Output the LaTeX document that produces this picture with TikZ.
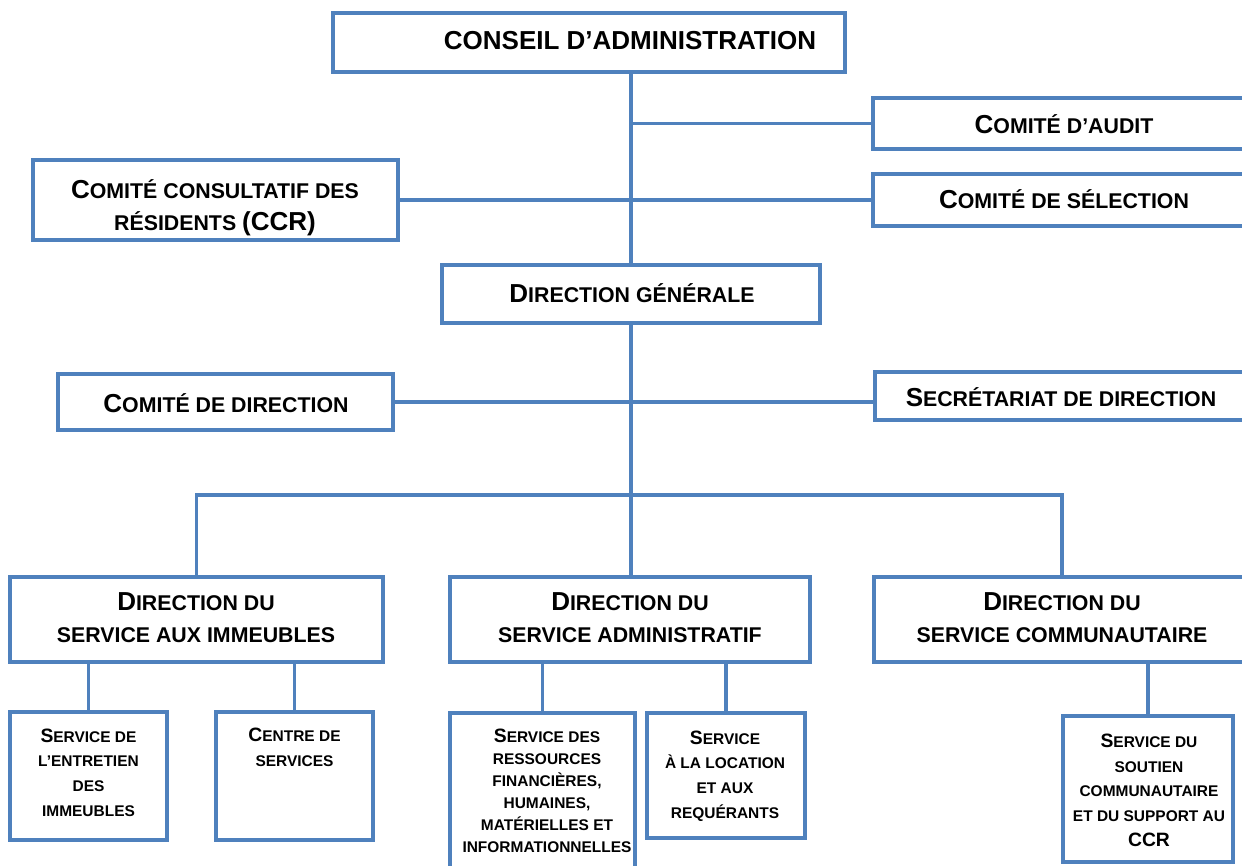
\documentclass[tikz,border=0pt]{standalone}
\usepackage{fontspec}
\setmainfont{Liberation Sans}
\usetikzlibrary{fit}
\definecolor{oblue}{RGB}{79,129,189}
\newcommand\Bg[1]{{\fontsize{19.5}{24}\selectfont #1}}
\newcommand\Bs[1]{{\fontsize{14.5}{18.5}\selectfont #1}}
\tikzset{
  box/.style={draw=oblue, line width=2.5pt, inner sep=0pt},
  conn/.style={draw=oblue, line width=2.5pt},
  mid/.style={align=center, inner sep=0pt, anchor=base, font=\bfseries\fontsize{16}{23.5}\selectfont},
  sub/.style={align=center, inner sep=0pt, anchor=base, font=\bfseries\fontsize{11.6}{18.5}\selectfont},
}
\begin{document}
\begin{tikzpicture}[x=0.75pt,y=-0.75pt]
\useasboundingbox (0,0) rectangle (1242,865);
\clip (0,0) rectangle (1242,865);
% boxes
\node[box, fit={(333,13) (845,72)}] (ca) {};
\node[box, fit={(873,98) (1255,149)}] (audit) {};
\node[box, fit={(873,174) (1255,226)}] (sel) {};
\node[box, fit={(33,160) (398,240)}] (ccr) {};
\node[box, fit={(442,265) (820,323)}] (dg) {};
\node[box, fit={(58,374) (393,430)}] (cdir) {};
\node[box, fit={(875,372) (1247,420)}] (sec) {};
\node[box, fit={(10,577) (383,662)}] (dsi) {};
\node[box, fit={(450,577) (810,662)}] (dsa) {};
\node[box, fit={(874,577) (1250,662)}] (dsc) {};
\node[box, fit={(10,712) (167,840)}] (ent) {};
\node[box, fit={(216,712) (373,840)}] (cs) {};
\node[box, fit={(450,713) (635,880)}] (res) {};
\node[box, fit={(647,713) (805,838)}] (loc) {};
\node[box, fit={(1063,716) (1233,862)}] (sout) {};
% connectors
\draw[conn] (ca.south -| dg.north) -- (dg.north);
\draw[conn] (audit.west) -- (audit.west -| dg.north);
\draw[conn] (ccr.east) -- (sel.west);
\draw[conn] (cdir.east) -- (cdir.east -| sec.west);
\draw[conn] (dg.south) -- (dg.south |- dsa.north);
\coordinate (bus) at (630,495);
\draw[conn] (dsi.north) |- (bus) -| (dsc.north);
\draw[conn] (ent.north) -- (ent.north |- dsi.south);
\draw[conn] (cs.north) -- (cs.north |- dsi.south);
\draw[conn] (res.north) -- (res.north |- dsa.south);
\draw[conn] (loc.north) -- (loc.north |- dsa.south);
\draw[conn] (sout.north) -- (sout.north |- dsc.south);
% texts (base anchor = baseline of last line)
\node[mid, font=\bfseries\fontsize{19.5}{24}\selectfont] (tca) at (630,49) {CONSEIL D’ADMINISTRATION};
\node[mid] (taudit) at (1064,133) {\Bg{C}OMITÉ D’AUDIT};
\node[mid] (tsel) at (1064,208) {\Bg{C}OMITÉ DE SÉLECTION};
\node[mid] (tccr) at (215,230) {\Bg{C}OMITÉ CONSULTATIF DES\\RÉSIDENTS \Bg{(CCR)}};
\node[mid] (tdg) at (632,302) {\Bg{D}IRECTION GÉNÉRALE};
\node[mid] (tcdir) at (226,412) {\Bg{C}OMITÉ DE DIRECTION};
\node[mid] (tsec) at (1061,406) {\Bg{S}ECRÉTARIAT DE DIRECTION};
\node[mid] (tdsi) at (196,642) {\Bg{D}IRECTION DU\\SERVICE AUX IMMEUBLES};
\node[mid] (tdsa) at (630,642) {\Bg{D}IRECTION DU\\SERVICE ADMINISTRATIF};
\node[mid] (tdsc) at (1062,642) {\Bg{D}IRECTION DU\\SERVICE COMMUNAUTAIRE};
\node[sub] (tent) at (88.5,816) {\Bs{S}ERVICE DE\\L’ENTRETIEN\\DES\\IMMEUBLES};
\node[sub] (tcs) at (294.5,766) {\Bs{C}ENTRE DE\\SERVICES};
\node[sub, font=\bfseries\fontsize{11.6}{16.5}\selectfont] (tres) at (547,852) {\Bs{S}ERVICE DES\\RESSOURCES\\FINANCIÈRES,\\HUMAINES,\\MATÉRIELLES ET\\INFORMATIONNELLES};
\node[sub] (tloc) at (725,818) {\Bs{S}ERVICE\\À LA LOCATION\\ET AUX\\REQUÉRANTS};
\node[sub] (tsout) at (1149,846) {\Bs{S}ERVICE DU\\SOUTIEN\\COMMUNAUTAIRE\\ET DU SUPPORT AU\\\Bs{CCR}};
\end{tikzpicture}
\end{document}
